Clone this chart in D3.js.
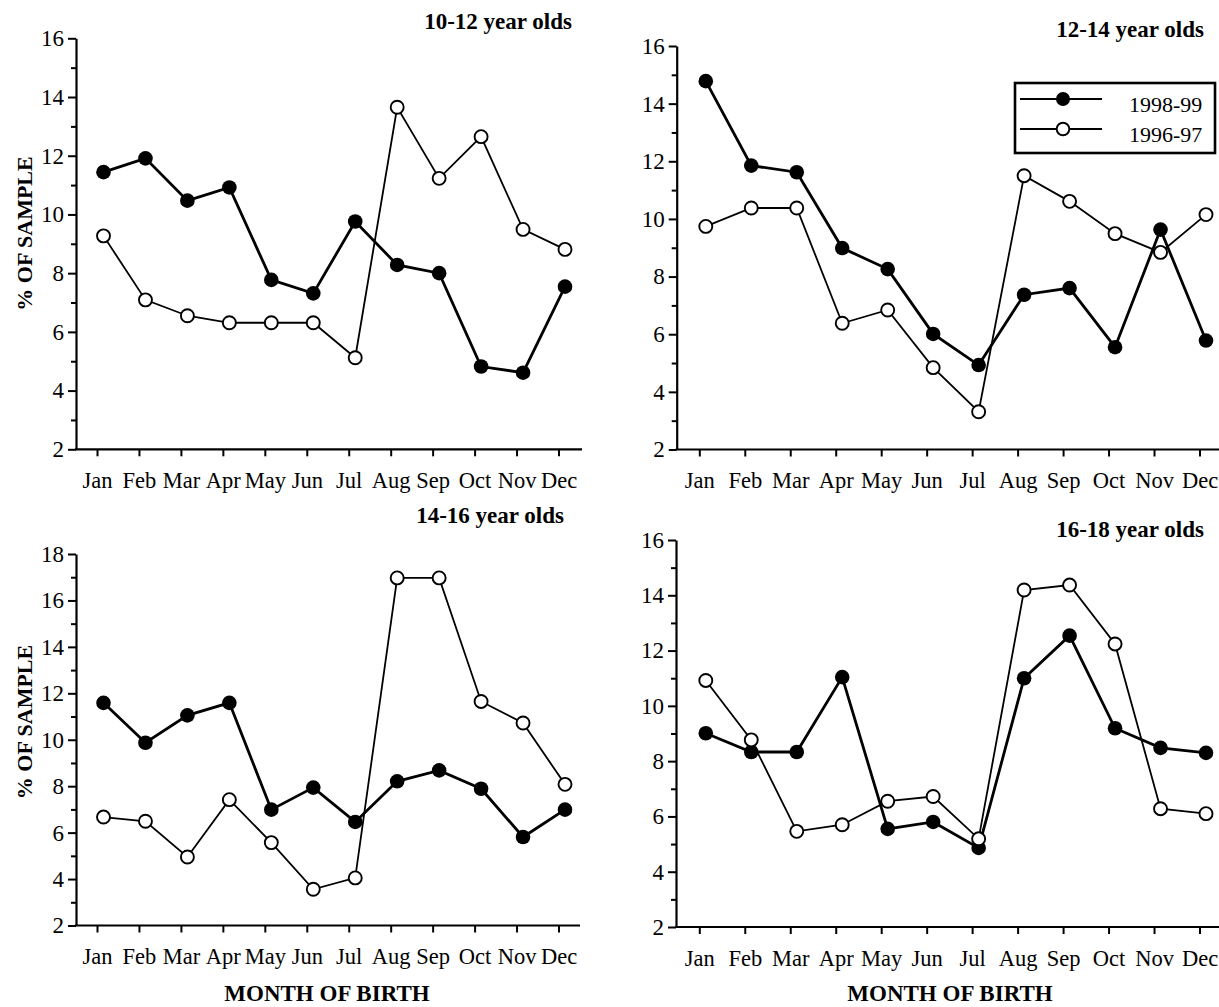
<!DOCTYPE html>
<html>
<head>
<meta charset="utf-8">
<script src="https://cdn.jsdelivr.net/npm/d3@7"></script>
<style>
    body { margin: 0; background: #fff; }
    svg { display: block; }
    text { font-family: "Liberation Serif", "Times New Roman", serif; fill: #000; }
    .axis path, .axis line { stroke: #000; }
</style>
</head>
<body>
<script>
// month categories
var months = ["Jan", "Feb", "Mar", "Apr", "May", "Jun", "Jul", "Aug", "Sep", "Oct", "Nov", "Dec"];

// series names (legend)
var seriesNames = ["1998-99", "1996-97"];

// panel titles
var panelTitles = ["10-12 year olds", "12-14 year olds", "14-16 year olds", "16-18 year olds"];

// % of sample
var s1998_10_12 = [11.44, 11.91, 10.47, 10.92, 7.77, 7.31, 9.76, 8.28, 8.00, 4.82, 4.61, 7.54];
var s1996_10_12 = [9.27, 7.09, 6.55, 6.31, 6.31, 6.31, 5.12, 13.65, 11.23, 12.65, 9.49, 8.81];

var s1998_12_14 = [14.78, 11.85, 11.62, 8.99, 8.26, 6.01, 4.93, 7.37, 7.60, 5.55, 9.63, 5.78];
var s1996_12_14 = [9.74, 10.38, 10.38, 6.38, 6.84, 4.84, 3.31, 11.50, 10.61, 9.49, 8.84, 10.15];

var s1998_14_16 = [11.59, 9.87, 11.05, 11.59, 6.99, 7.94, 6.46, 8.21, 8.68, 7.89, 5.81, 6.99];
var s1996_14_16 = [6.67, 6.49, 4.95, 7.42, 5.57, 3.56, 4.05, 16.97, 16.97, 11.65, 10.72, 8.08];

var s1998_16_18 = [9.01, 8.33, 8.33, 11.04, 5.55, 5.80, 4.86, 11.00, 12.54, 9.19, 8.48, 8.30];
var s1996_16_18 = [10.92, 8.77, 5.46, 5.70, 6.55, 6.72, 5.19, 14.19, 14.37, 12.24, 6.28, 6.10];

// y axis tick values
var yTicks16 = [2, 4, 6, 8, 10, 12, 14, 16];
var yTicks18 = [2, 4, 6, 8, 10, 12, 14, 16, 18];

//---------setup page-----------------------//
var W = 1219, H = 1007;
var svg = d3.select("body").append("svg")
    .attr("width", W)
    .attr("height", H);

// panel layout (pixel positions of each small chart)
var panels = [
    {title: panelTitles[0], a: s1998_10_12, b: s1996_10_12, ticks: yTicks16, yMax: 16,
        left: 76, xEnd: 582, jan: 97, dec: 558.5, top: 38.3, bottom: 449.3,
        titleX: 572, titleY: 29, ylabelY: 233.5, xlabelX: null},
    {title: panelTitles[1], a: s1998_12_14, b: s1996_12_14, ticks: yTicks16, yMax: 16,
        left: 676.7, xEnd: 1219, jan: 699.3, dec: 1199.5, top: 46, bottom: 449.5,
        titleX: 1204, titleY: 37, ylabelY: null, xlabelX: null, legend: true},
    {title: panelTitles[2], a: s1998_14_16, b: s1996_14_16, ticks: yTicks18, yMax: 18,
        left: 76, xEnd: 580, jan: 97, dec: 558.5, top: 554, bottom: 925.5,
        titleX: 564, titleY: 523, ylabelY: 722, xlabelX: 327},
    {title: panelTitles[3], a: s1998_16_18, b: s1996_16_18, ticks: yTicks16, yMax: 16,
        left: 676, xEnd: 1219, jan: 699.3, dec: 1199.5, top: 540, bottom: 927,
        titleX: 1204, titleY: 536.5, ylabelY: null, xlabelX: 950}
];

var dotShift = 6.5;   // points sit a little right of the month ticks

panels.forEach(function (p) {
    var g = svg.append("g");

    // scales
    var x = d3.scalePoint()
        .domain(months)
        .range([p.jan, p.dec]);
    var y = d3.scaleLinear()
        .domain([2, p.yMax])
        .range([p.bottom, p.top]);

    // minor y ticks (odd values)
    var minor = d3.range(3, p.yMax, 2);
    g.append("g")
        .attr("class", "axis")
        .attr("transform", "translate(" + p.left + ",0)")
        .call(d3.axisLeft(y).tickValues(minor).tickSize(5).tickFormat(""))
        .call(function (s) { s.select(".domain").remove(); })
        .selectAll("line").attr("stroke-width", 2);

    // major y ticks + labels
    var ya = g.append("g")
        .attr("class", "axis")
        .attr("transform", "translate(" + p.left + ",0)")
        .call(d3.axisLeft(y).tickValues(p.ticks).tickSizeInner(8).tickSizeOuter(0).tickPadding(4));
    ya.select(".domain").attr("stroke-width", 2.2);
    ya.selectAll("line").attr("stroke-width", 2);
    ya.selectAll("text").style("font-size", "23px");

    // x axis ticks + month labels
    var xa = g.append("g")
        .attr("class", "axis")
        .attr("transform", "translate(0," + p.bottom + ")")
        .call(d3.axisBottom(x).tickSizeInner(7).tickSizeOuter(0).tickPadding(16));
    xa.select(".domain").remove();
    xa.selectAll("line").attr("stroke-width", 2);
    xa.selectAll("text").style("font-size", "22.5px");

    // x axis line
    g.append("line")
        .attr("x1", p.left - 1)
        .attr("x2", p.xEnd)
        .attr("y1", p.bottom)
        .attr("y2", p.bottom)
        .attr("stroke", "#000")
        .attr("stroke-width", 2.2);

    // lines
    var line = d3.line()
        .x(function (d, i) { return x(months[i]) + dotShift; })
        .y(function (d) { return y(d); });

    g.append("path")
        .datum(p.a)
        .attr("fill", "none")
        .attr("stroke", "#000")
        .attr("stroke-width", 2.8)
        .attr("d", line);

    g.selectAll("circle.filled")
        .data(p.a)
        .enter().append("circle")
        .attr("class", "filled")
        .attr("cx", function (d, i) { return x(months[i]) + dotShift; })
        .attr("cy", function (d) { return y(d); })
        .attr("r", 7.3)
        .attr("fill", "#000");

    g.append("path")
        .datum(p.b)
        .attr("fill", "none")
        .attr("stroke", "#000")
        .attr("stroke-width", 1.8)
        .attr("d", line);

    g.selectAll("circle.open")
        .data(p.b)
        .enter().append("circle")
        .attr("class", "open")
        .attr("cx", function (d, i) { return x(months[i]) + dotShift; })
        .attr("cy", function (d) { return y(d); })
        .attr("r", 6.5)
        .attr("fill", "#fff")
        .attr("stroke", "#000")
        .attr("stroke-width", 1.9);

    // panel title
    g.append("text")
        .attr("x", p.titleX)
        .attr("y", p.titleY)
        .attr("text-anchor", "end")
        .style("font-size", "23px")
        .style("font-weight", "bold")
        .text(p.title);

    // y axis label
    if (p.ylabelY !== null) {
        g.append("text")
            .attr("transform", "translate(24," + p.ylabelY + ") rotate(-90)")
            .attr("text-anchor", "middle")
            .attr("dy", "0.35em")
            .style("font-size", "22px")
            .style("font-weight", "bold")
            .text("% OF SAMPLE");
    }

    // x axis label
    if (p.xlabelX !== null) {
        g.append("text")
            .attr("x", p.xlabelX)
            .attr("y", 1001)
            .attr("text-anchor", "middle")
            .style("font-size", "23px")
            .style("font-weight", "bold")
            .text("MONTH OF BIRTH");
    }

    // legend
    if (p.legend) {
        var lg = g.append("g");
        lg.append("rect")
            .attr("x", 1015)
            .attr("y", 83)
            .attr("width", 200)
            .attr("height", 70)
            .attr("fill", "#fff")
            .attr("stroke", "#000")
            .attr("stroke-width", 2.6);
        seriesNames.forEach(function (name, i) {
            var ly = 99 + i * 30;
            lg.append("line")
                .attr("x1", 1020).attr("x2", 1102)
                .attr("y1", ly).attr("y2", ly)
                .attr("stroke", "#000")
                .attr("stroke-width", 1.8);
            lg.append("circle")
                .attr("cx", 1063)
                .attr("cy", ly)
                .attr("r", i === 0 ? 7 : 6.3)
                .attr("fill", i === 0 ? "#000" : "#fff")
                .attr("stroke", "#000")
                .attr("stroke-width", i === 0 ? 0 : 1.9);
            lg.append("text")
                .attr("x", 1129)
                .attr("y", ly + 12.5)
                .style("font-size", "22px")
                .text(name);
        });
    }
});
</script>
</body>
</html>
